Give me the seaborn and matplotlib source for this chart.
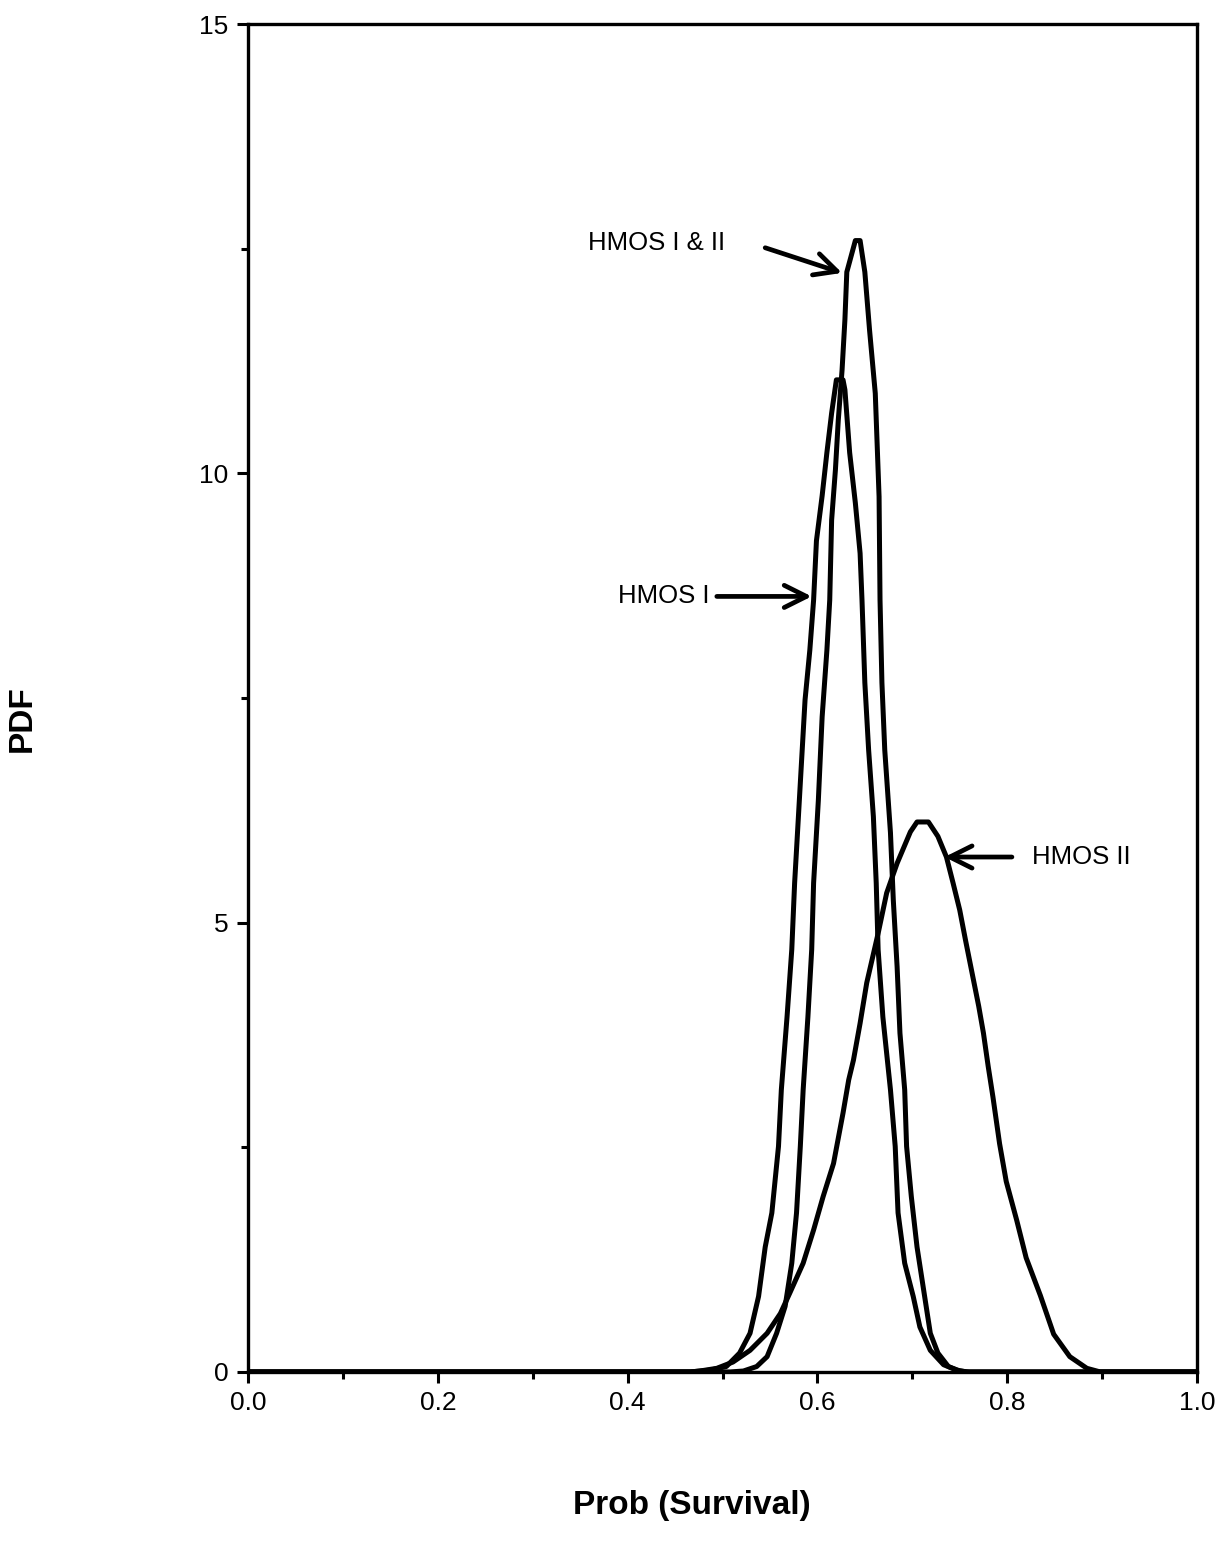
import numpy as np
import pandas as pd
import matplotlib
matplotlib.use("Agg")
import matplotlib.pyplot as plt
import seaborn as sns
from matplotlib.ticker import MultipleLocator

# curvas (x = Prob(Survival), y = PDF)
hmos1_x = [0.0, 0.466, 0.487, 0.504, 0.518, 0.529, 0.538, 0.545, 0.552, 0.559,
           0.562, 0.568, 0.573, 0.576, 0.580, 0.583, 0.587, 0.592, 0.596, 0.599,
           0.605, 0.610, 0.615, 0.620, 0.627, 0.629, 0.634, 0.640, 0.645, 0.647,
           0.650, 0.654, 0.659, 0.662, 0.664, 0.669, 0.677, 0.682, 0.685, 0.692,
           0.701, 0.708, 0.719, 0.733, 0.747, 0.757, 1.0]
hmos1_y = [0.0, 0.0, 0.02, 0.06, 0.21, 0.43, 0.84, 1.39, 1.77, 2.51,
           3.14, 3.95, 4.70, 5.44, 6.18, 6.74, 7.48, 8.03, 8.59, 9.25,
           9.75, 10.23, 10.67, 11.04, 11.04, 10.93, 10.23, 9.67, 9.11, 8.59,
           7.67, 6.92, 6.18, 5.44, 4.70, 3.95, 3.14, 2.51, 1.77, 1.21,
           0.84, 0.50, 0.24, 0.08, 0.02, 0.0, 0.0]

hmos12_x = [0.0, 0.508, 0.522, 0.536, 0.547, 0.557, 0.566, 0.573, 0.578, 0.582,
            0.585, 0.590, 0.594, 0.596, 0.601, 0.605, 0.610, 0.613, 0.615, 0.619,
            0.622, 0.626, 0.629, 0.631, 0.640, 0.645, 0.650, 0.655, 0.661, 0.665,
            0.666, 0.668, 0.671, 0.677, 0.680, 0.684, 0.687, 0.692, 0.694, 0.699,
            0.705, 0.712, 0.719, 0.727, 0.738, 0.750, 0.760, 1.0]
hmos12_y = [0.0, 0.0, 0.01, 0.06, 0.17, 0.43, 0.73, 1.21, 1.77, 2.51,
            3.14, 3.95, 4.70, 5.44, 6.36, 7.29, 8.03, 8.59, 9.48, 10.04,
            10.59, 11.15, 11.71, 12.24, 12.59, 12.59, 12.24, 11.59, 10.89, 9.74,
            8.59, 7.67, 6.92, 6.00, 5.25, 4.51, 3.77, 3.14, 2.51, 1.95,
            1.39, 0.91, 0.43, 0.21, 0.06, 0.01, 0.0, 0.0]

hmos2_x = [0.0, 0.466, 0.476, 0.494, 0.511, 0.529, 0.547, 0.561, 0.571, 0.585,
           0.596, 0.606, 0.617, 0.627, 0.633, 0.638, 0.645, 0.652, 0.664, 0.673,
           0.684, 0.698, 0.705, 0.717, 0.727, 0.736, 0.743, 0.750, 0.756, 0.763,
           0.770, 0.775, 0.780, 0.785, 0.792, 0.799, 0.810, 0.820, 0.835, 0.849,
           0.866, 0.884, 0.898, 1.0]
hmos2_y = [0.0, 0.0, 0.01, 0.04, 0.11, 0.24, 0.43, 0.65, 0.88, 1.21,
           1.58, 1.95, 2.32, 2.88, 3.25, 3.47, 3.88, 4.33, 4.88, 5.33,
           5.66, 6.01, 6.12, 6.12, 5.96, 5.73, 5.44, 5.14, 4.81, 4.44,
           4.07, 3.77, 3.40, 3.06, 2.54, 2.12, 1.69, 1.27, 0.85, 0.42,
           0.17, 0.04, 0.0, 0.0]

x_ticks = [0.0, 0.2, 0.4, 0.6, 0.8, 1.0]
x_ticklabels = ["0.0", "0.2", "0.4", "0.6", "0.8", "1.0"]
y_ticks = [0, 5, 10, 15]
y_ticklabels = ["0", "5", "10", "15"]

df = pd.concat([
    pd.DataFrame({"x": hmos1_x, "y": hmos1_y, "serie": "HMOS I"}),
    pd.DataFrame({"x": hmos12_x, "y": hmos12_y, "serie": "HMOS I & II"}),
    pd.DataFrame({"x": hmos2_x, "y": hmos2_y, "serie": "HMOS II"}),
])

sns.set_theme(style="white")
plt.rcParams["font.family"] = ["Liberation Sans", "DejaVu Sans"]
plt.rcParams["text.color"] = "black"
plt.rcParams["axes.labelcolor"] = "black"

fig = plt.figure(figsize=(12.22, 15.59), dpi=100)
ax = fig.add_axes([0.203, 0.120, 0.7765, 0.8646])

sns.lineplot(data=df, x="x", y="y", hue="serie", units="serie", estimator=None,
             palette=["black", "black", "black"], linewidth=3.6, legend=False, ax=ax)

ax.set_xlim(0, 1)
ax.set_ylim(0, 15)
ax.set_xticks(x_ticks)
ax.set_xticklabels(x_ticklabels)
ax.set_yticks(y_ticks)
ax.set_yticklabels(y_ticklabels)
ax.xaxis.set_minor_locator(MultipleLocator(0.1))
ax.yaxis.set_minor_locator(MultipleLocator(2.5))
ax.tick_params(which="major", direction="out", length=8, width=2.2, labelsize=19,
               color="black", labelcolor="black", pad=6)
ax.tick_params(which="minor", direction="out", length=5, width=2.2, color="black")
ax.tick_params(axis="x", which="both", bottom=True)
ax.tick_params(axis="y", which="both", left=True)
for s in ax.spines.values():
    s.set_visible(True)
    s.set_color("black")
    s.set_linewidth(2.4)

ax.set_xlabel("Prob (Survival)", fontsize=24, fontweight="bold")
ax.set_ylabel("PDF", fontsize=24, fontweight="bold")
ax.xaxis.set_label_coords(0.468, -0.0994)
ax.yaxis.set_label_coords(-0.238, 0.485)
ax.xaxis.label.set_va("center")
ax.yaxis.label.set_va("center")

# etiquetas con flechas
arrow = dict(arrowstyle="->", lw=3.4, color="black", mutation_scale=40,
             shrinkA=0, shrinkB=0)
ax.text(0.358, 12.56, "HMOS I & II", fontsize=18.5, va="center", ha="left")
ax.annotate("", xy=(0.626, 12.23), xytext=(0.545, 12.51), arrowprops=arrow)
ax.text(0.390, 8.63, "HMOS I", fontsize=18.5, va="center", ha="left")
ax.annotate("", xy=(0.594, 8.63), xytext=(0.494, 8.63), arrowprops=arrow)
ax.text(0.826, 5.73, "HMOS II", fontsize=18.5, va="center", ha="left")
ax.annotate("", xy=(0.734, 5.73), xytext=(0.805, 5.73), arrowprops=arrow)

fig.savefig("out.png", dpi=100, facecolor="white")
